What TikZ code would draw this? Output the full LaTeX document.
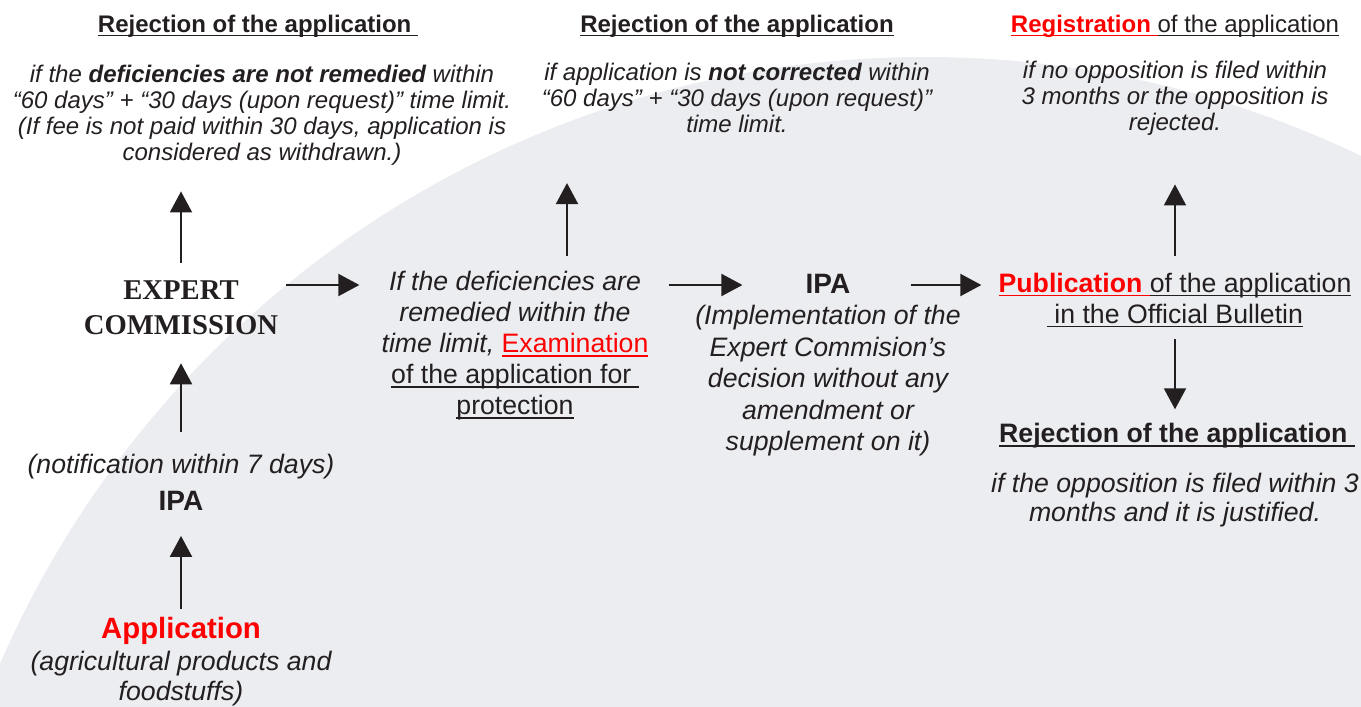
\documentclass[tikz,border=0pt]{standalone}
\usepackage{fontspec}
\setmainfont{Liberation Sans}
\newfontfamily\expertfont{Liberation Serif}
\usetikzlibrary{arrows.meta,calc}
\definecolor{ink}{RGB}{35,31,32}
\definecolor{bggray}{RGB}{236,237,241}
\definecolor{redtxt}{RGB}{255,0,0}
% underline at a fixed depth, in the current colour
\newcommand{\ulx}[1]{\setbox0\hbox{#1}\rlap{\rule[-3pt]{\wd0}{1.2pt}}\box0}
\tikzset{
  hdr/.style={inner sep=0pt, text=ink, font=\fontsize{18}{21}\selectfont\bfseries},
  note/.style={inner sep=0pt, align=center, text=ink, font=\fontsize{18}{19.5}\selectfont\itshape},
  body/.style={inner sep=0pt, align=center, text=ink, font=\fontsize{20}{23.25}\selectfont\itshape},
  key/.style={inner sep=0pt, text=ink, font=\fontsize{21}{25}\selectfont\bfseries},
  arr/.style={draw=ink, line width=1.5pt, -{Triangle[width=16.5pt,length=15.75pt]}},
}
\begin{document}
\begin{tikzpicture}[x=0.75pt,y=0.75pt,yscale=-1,xscale=1]
    \useasboundingbox (0,0) rectangle (1361,707);
    % background arc
    \begin{scope}
      \clip (0,0) rectangle (1361,707);
      \fill[bggray] (925,1065) circle [radius=1008];
    \end{scope}
    % Text Node
    \node[hdr] (rej1) at (258,26) {\ulx{Rejection of the application }};
    % Text Node
    \node[note] (cond1) at (262,115) {if the \textbf{deficiencies are not remedied} within\\``60 days'' + ``30 days (upon request)'' time limit.\\(If fee is not paid within 30 days, application is\\considered as withdrawn.)};
    % Text Node
    \node[hdr] (rej2) at (737,26) {\ulx{Rejection of the application}};
    % Text Node
    \node[note] (cond2) at (737,98) {if application is \textbf{not corrected} within\\``60 days'' + ``30 days (upon request)''\\time limit.};
    % Text Node
    \node[hdr, font=\fontsize{18}{21}\selectfont] (reg) at (1175,26) {{\color{redtxt}\ulx{\textbf{Registration }}}\ulx{of the application}};
    % Text Node
    \node[note] (cond3) at (1175,98) {if no opposition is filed within\\3 months or the opposition is\\rejected.};
    % Text Node
    \node[key, align=center, font=\fontsize{21.5}{26.25}\selectfont\expertfont\bfseries] (expert) at (181,308) {EXPERT\\COMMISSION};
    % Text Node
    \node[body, font=\fontsize{20}{23}\selectfont\itshape] (notif) at (181,467) {(notification within 7 days)};
    % Text Node
    \node[key] (ipa1) at (181,501) {IPA};
    % Text Node
    \node[key, text=redtxt, font=\fontsize{22}{26}\selectfont\bfseries] (app) at (181,631) {Application};
    % Text Node
    \node[body, font=\fontsize{20}{22.5}\selectfont\itshape] (agri) at (181,679) {(agricultural products and\\foodstuffs)};
    % Text Node
    \node[body] (exam) at (515,346) {If the deficiencies are\\remedied within the\\time limit, {\upshape\color{redtxt}\ulx{Examination}}\\{\upshape\ulx{of the application for }}\\{\upshape\ulx{protection}}};
    % Text Node
    \node[key] (ipa2) at (828,284) {IPA};
    % Text Node
    \node[body, font=\fontsize{20}{23.6}\selectfont\itshape] (impl) at (828,381) {(Implementation of the\\Expert Commision’s\\decision without any\\amendment or\\supplement on it)};
    % Text Node
    \node[body, font=\fontsize{20}{23.25}\selectfont] (pub) at (1175,300) {{\color{redtxt}\ulx{\textbf{Publication }}}\ulx{of the application}\\\ulx{\ in the Official Bulletin}};
    % Text Node
    \node[hdr, font=\fontsize{20}{24}\selectfont\bfseries] (rej3) at (1177,436) {\ulx{Rejection of the application }};
    % Text Node
    \node[body, font=\fontsize{20}{21.75}\selectfont\itshape] (cond4) at (1175,500) {if the opposition is filed within 3\\months and it is justified.};
    % Arrows
    \draw[arr] ($(expert.north)+(0,-18)$) -- ($(expert.north |- cond1.south)+(0,26)$);
    \draw[arr] ($(notif.north)+(0,-22)$) -- ($(expert.south)+(0,28)$);
    \draw[arr] ($(app.north)+(0,-8)$) -- ($(ipa1.south)+(0,25)$);
    \draw[arr] ($(expert.east |- ipa2)+(8,1)$) -- ($(exam.west |- ipa2)+(-22,1)$);
    \draw[arr] ($(exam.north)+(52,-15)$) -- ($(exam.north |- cond2.south)+(52,50)$);
    \draw[arr] ($(exam.east |- ipa2)+(20,1)$) -- ($(ipa2.west)+(-63,1)$);
    \draw[arr] ($(ipa2.east)+(60,1)$) -- ($(pub.west |- ipa2)+(-17,1)$);
    \draw[arr] ($(pub.north)+(0,-17)$) -- ($(pub.north |- cond3.south)+(0,49)$);
    \draw[arr] ($(pub.south)+(0,12)$) -- ($(pub.south |- rej3.north)+(0,-14)$);
\end{tikzpicture}
\end{document}
